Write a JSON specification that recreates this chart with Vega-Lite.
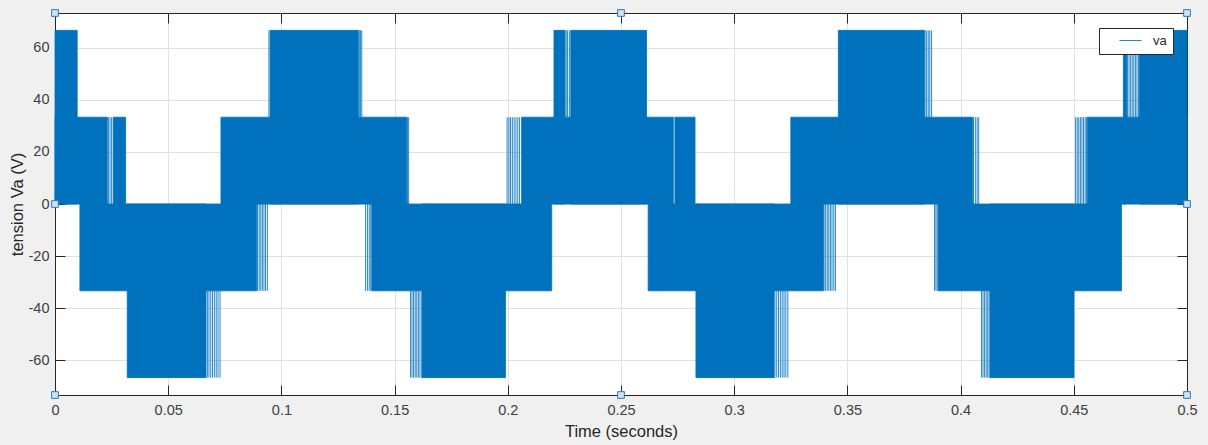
{
  "$schema": "https://vega.github.io/schema/vega-lite/v6.json",
  "width": 1132,
  "height": 382,
  "autosize": "none",
  "padding": {"left": 55, "top": 13, "right": 21, "bottom": 50},
  "background": "#f0f0f0",
  "config": {
    "view": {"fill": "white", "stroke": null},
    "font": "Liberation Sans",
    "axis": {
      "labelFont": "Liberation Sans",
      "titleFont": "Liberation Sans",
      "labelFontSize": 14.5,
      "titleFontSize": 16.5,
      "titleFontWeight": "normal",
      "labelColor": "#404040",
      "titleColor": "#262626",
      "domainColor": "#262626",
      "tickColor": "#262626",
      "gridColor": "#e1e1e1",
      "gridOpacity": 1,
      "labelFlush": false
    }
  },
  "datasets": {
    "bands": [
      {"t0": 0, "t1": 0.0231, "lo": 0, "hi": 33.33},
      {"t0": 0.0257, "t1": 0.0312, "lo": 0, "hi": 33.33},
      {"t0": 0.0733, "t1": 0.1553, "lo": 0, "hi": 33.33},
      {"t0": 0.2061, "t1": 0.2731, "lo": 0, "hi": 33.33},
      {"t0": 0.2738, "t1": 0.2827, "lo": 0, "hi": 33.33},
      {"t0": 0.325, "t1": 0.4053, "lo": 0, "hi": 33.33},
      {"t0": 0.456, "t1": 0.5, "lo": 0, "hi": 33.33},
      {"t0": 0, "t1": 0.0098, "lo": 0, "hi": 66.67},
      {"t0": 0.095, "t1": 0.134, "lo": 0, "hi": 66.67},
      {"t0": 0.2204, "t1": 0.2253, "lo": 0, "hi": 66.67},
      {"t0": 0.2278, "t1": 0.2613, "lo": 0, "hi": 66.67},
      {"t0": 0.346, "t1": 0.384, "lo": 0, "hi": 66.67},
      {"t0": 0.4719, "t1": 0.4733, "lo": 0, "hi": 66.67},
      {"t0": 0.479, "t1": 0.5, "lo": 0, "hi": 66.67},
      {"t0": 0.011, "t1": 0.0891, "lo": -33.33, "hi": 0},
      {"t0": 0.1399, "t1": 0.2194, "lo": -33.33, "hi": 0},
      {"t0": 0.262, "t1": 0.3394, "lo": -33.33, "hi": 0},
      {"t0": 0.3901, "t1": 0.4711, "lo": -33.33, "hi": 0},
      {"t0": 0.0319, "t1": 0.0667, "lo": -66.67, "hi": 0},
      {"t0": 0.162, "t1": 0.199, "lo": -66.67, "hi": 0},
      {"t0": 0.2831, "t1": 0.3176, "lo": -66.67, "hi": 0},
      {"t0": 0.413, "t1": 0.4501, "lo": -66.67, "hi": 0}
    ],
    "pulses": [
      {"t": 0.0236, "lo": 0, "hi": 33.33},
      {"t": 0.0243, "lo": 0, "hi": 33.33},
      {"t": 0.0250, "lo": 0, "hi": 33.33},
      {"t": 0.0673, "lo": -66.67, "hi": -33.33},
      {"t": 0.0680, "lo": -66.67, "hi": -33.33},
      {"t": 0.0688, "lo": -66.67, "hi": -33.33},
      {"t": 0.0696, "lo": -66.67, "hi": -33.33},
      {"t": 0.0704, "lo": -66.67, "hi": -33.33},
      {"t": 0.0712, "lo": -66.67, "hi": -33.33},
      {"t": 0.0720, "lo": -66.67, "hi": -33.33},
      {"t": 0.0729, "lo": -66.67, "hi": -33.33},
      {"t": 0.0895, "lo": -33.33, "hi": 0},
      {"t": 0.0902, "lo": -33.33, "hi": 0},
      {"t": 0.0909, "lo": -33.33, "hi": 0},
      {"t": 0.0916, "lo": -33.33, "hi": 0},
      {"t": 0.0923, "lo": -33.33, "hi": 0},
      {"t": 0.0930, "lo": -33.33, "hi": 0},
      {"t": 0.0938, "lo": -33.33, "hi": 0},
      {"t": 0.0945, "lo": 33.33, "hi": 66.67},
      {"t": 0.1344, "lo": 33.33, "hi": 66.67},
      {"t": 0.1349, "lo": 33.33, "hi": 66.67},
      {"t": 0.1355, "lo": 33.33, "hi": 66.67},
      {"t": 0.1372, "lo": -33.33, "hi": 0},
      {"t": 0.1380, "lo": -33.33, "hi": 0},
      {"t": 0.1388, "lo": -33.33, "hi": 0},
      {"t": 0.1395, "lo": -33.33, "hi": 0},
      {"t": 0.1557, "lo": 0, "hi": 33.33},
      {"t": 0.1562, "lo": 0, "hi": 33.33},
      {"t": 0.1570, "lo": -66.67, "hi": -33.33},
      {"t": 0.1577, "lo": -66.67, "hi": -33.33},
      {"t": 0.1584, "lo": -66.67, "hi": -33.33},
      {"t": 0.1591, "lo": -66.67, "hi": -33.33},
      {"t": 0.1598, "lo": -66.67, "hi": -33.33},
      {"t": 0.1605, "lo": -66.67, "hi": -33.33},
      {"t": 0.1612, "lo": -66.67, "hi": -33.33},
      {"t": 0.1997, "lo": 0, "hi": 33.33},
      {"t": 0.2005, "lo": 0, "hi": 33.33},
      {"t": 0.2012, "lo": 0, "hi": 33.33},
      {"t": 0.2020, "lo": 0, "hi": 33.33},
      {"t": 0.2028, "lo": 0, "hi": 33.33},
      {"t": 0.2036, "lo": 0, "hi": 33.33},
      {"t": 0.2044, "lo": 0, "hi": 33.33},
      {"t": 0.2052, "lo": 0, "hi": 33.33},
      {"t": 0.2258, "lo": 33.33, "hi": 66.67},
      {"t": 0.2264, "lo": 33.33, "hi": 66.67},
      {"t": 0.2272, "lo": 33.33, "hi": 66.67},
      {"t": 0.3180, "lo": -66.67, "hi": -33.33},
      {"t": 0.3188, "lo": -66.67, "hi": -33.33},
      {"t": 0.3196, "lo": -66.67, "hi": -33.33},
      {"t": 0.3204, "lo": -66.67, "hi": -33.33},
      {"t": 0.3212, "lo": -66.67, "hi": -33.33},
      {"t": 0.3220, "lo": -66.67, "hi": -33.33},
      {"t": 0.3228, "lo": -66.67, "hi": -33.33},
      {"t": 0.3237, "lo": -66.67, "hi": -33.33},
      {"t": 0.3397, "lo": -33.33, "hi": 0},
      {"t": 0.3404, "lo": -33.33, "hi": 0},
      {"t": 0.3411, "lo": -33.33, "hi": 0},
      {"t": 0.3418, "lo": -33.33, "hi": 0},
      {"t": 0.3425, "lo": -33.33, "hi": 0},
      {"t": 0.3432, "lo": -33.33, "hi": 0},
      {"t": 0.3440, "lo": -33.33, "hi": 0},
      {"t": 0.3447, "lo": -33.33, "hi": 0},
      {"t": 0.3843, "lo": 33.33, "hi": 66.67},
      {"t": 0.3850, "lo": 33.33, "hi": 66.67},
      {"t": 0.3857, "lo": 33.33, "hi": 66.67},
      {"t": 0.3864, "lo": 33.33, "hi": 66.67},
      {"t": 0.3872, "lo": 33.33, "hi": 66.67},
      {"t": 0.3885, "lo": -33.33, "hi": 0},
      {"t": 0.3891, "lo": -33.33, "hi": 0},
      {"t": 0.3897, "lo": -33.33, "hi": 0},
      {"t": 0.4057, "lo": 0, "hi": 33.33},
      {"t": 0.4065, "lo": 0, "hi": 33.33},
      {"t": 0.4073, "lo": 0, "hi": 33.33},
      {"t": 0.4080, "lo": 0, "hi": 33.33},
      {"t": 0.4092, "lo": -66.67, "hi": -33.33},
      {"t": 0.4099, "lo": -66.67, "hi": -33.33},
      {"t": 0.4106, "lo": -66.67, "hi": -33.33},
      {"t": 0.4113, "lo": -66.67, "hi": -33.33},
      {"t": 0.4120, "lo": -66.67, "hi": -33.33},
      {"t": 0.4126, "lo": -66.67, "hi": -33.33},
      {"t": 0.4508, "lo": 0, "hi": 33.33},
      {"t": 0.4515, "lo": 0, "hi": 33.33},
      {"t": 0.4522, "lo": 0, "hi": 33.33},
      {"t": 0.4529, "lo": 0, "hi": 33.33},
      {"t": 0.4536, "lo": 0, "hi": 33.33},
      {"t": 0.4543, "lo": 0, "hi": 33.33},
      {"t": 0.4550, "lo": 0, "hi": 33.33},
      {"t": 0.4556, "lo": 0, "hi": 33.33},
      {"t": 0.4737, "lo": 33.33, "hi": 66.67},
      {"t": 0.4744, "lo": 33.33, "hi": 66.67},
      {"t": 0.4751, "lo": 33.33, "hi": 66.67},
      {"t": 0.4758, "lo": 33.33, "hi": 66.67},
      {"t": 0.4765, "lo": 33.33, "hi": 66.67},
      {"t": 0.4772, "lo": 33.33, "hi": 66.67},
      {"t": 0.4779, "lo": 33.33, "hi": 66.67},
      {"t": 0.4786, "lo": 33.33, "hi": 66.67}
    ],
    "handles": [
      {"t": 0, "v": 73.33},
      {"t": 0.25, "v": 73.33},
      {"t": 0.5, "v": 73.33},
      {"t": 0, "v": 0},
      {"t": 0.5, "v": 0},
      {"t": 0, "v": -73.33},
      {"t": 0.25, "v": -73.33},
      {"t": 0.5, "v": -73.33}
    ]
  },
  "layer": [
    {
      "data": {"name": "bands"},
      "mark": {"type": "rect", "color": "#0072BD", "stroke": "#0072BD", "strokeWidth": 0.8},
      "encoding": {
        "x": {
          "field": "t0", "type": "quantitative",
          "scale": {"domain": [0, 0.5], "nice": false, "zero": false},
          "axis": {
            "orient": "bottom", "title": "Time (seconds)",
            "values": [0, 0.05, 0.1, 0.15, 0.2, 0.25, 0.3, 0.35, 0.4, 0.45, 0.5],
            "labelExpr": "'' + datum.value", "tickSize": -10, "labelPadding": 18,
            "grid": true, "titlePadding": 7
          }
        },
        "x2": {"field": "t1"},
        "y": {
          "field": "lo", "type": "quantitative",
          "scale": {"domain": [-73.33, 73.33], "nice": false, "zero": false},
          "axis": {
            "orient": "left", "title": "tension Va (V)",
            "values": [-60, -40, -20, 0, 20, 40, 60],
            "labelExpr": "'' + datum.value",
            "tickSize": -10, "labelPadding": 16, "grid": true, "titlePadding": 3
          }
        },
        "y2": {"field": "hi"}
      }
    },
    {
      "data": {"name": "pulses"},
      "mark": {"type": "rule", "strokeWidth": 1, "opacity": 0.85},
      "encoding": {
        "x": {
          "field": "t", "type": "quantitative",
          "scale": {"domain": [0, 0.5], "nice": false, "zero": false},
          "axis": {
            "orient": "top", "title": null, "labels": false, "grid": false,
            "values": [0, 0.05, 0.1, 0.15, 0.2, 0.25, 0.3, 0.35, 0.4, 0.45, 0.5],
            "tickSize": -10
          }
        },
        "y": {
          "field": "lo", "type": "quantitative",
          "scale": {"domain": [-73.33, 73.33], "nice": false, "zero": false},
          "axis": {
            "orient": "right", "title": null, "labels": false, "grid": false,
            "values": [-60, -40, -20, 0, 20, 40, 60],
            "tickSize": -10
          }
        },
        "y2": {"field": "hi"},
        "color": {
          "datum": "va",
          "scale": {"range": ["#0072BD"]},
          "legend": {
            "title": null,
            "orient": "none",
            "legendX": 1044,
            "legendY": 15,
            "fillColor": "white",
            "strokeColor": "#262626",
            "padding": 6,
            "symbolType": "M-2.2,0H2.2",
            "symbolSize": 100,
            "symbolStrokeWidth": 1,
            "symbolFillColor": "transparent",
            "symbolOffset": 19,
            "labelOffset": 16,
            "labelFont": "Liberation Sans",
            "labelFontSize": 13,
            "labelColor": "#262626"
          }
        }
      }
    },
    {
      "data": {"name": "handles"},
      "mark": {"type": "point", "shape": "square", "size": 45, "filled": true, "fill": "#cfe2f5", "stroke": "#2f77ba", "strokeWidth": 1, "opacity": 1},
      "encoding": {
        "x": {"field": "t", "type": "quantitative", "axis": null, "scale": {"domain": [0, 0.5], "nice": false, "zero": false}},
        "y": {"field": "v", "type": "quantitative", "axis": null, "scale": {"domain": [-73.33, 73.33], "nice": false, "zero": false}}
      }
    }
  ],
  "resolve": {"axis": {"x": "independent", "y": "independent"}}
}
